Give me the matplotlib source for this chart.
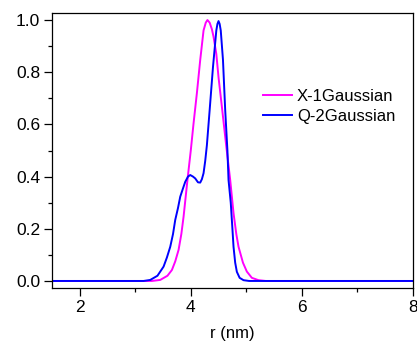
import matplotlib
matplotlib.use("Agg")
import matplotlib.pyplot as plt
from matplotlib.ticker import MultipleLocator, FormatStrFormatter

plt.rcParams['font.family'] = ['Liberation Sans', 'DejaVu Sans']

# Radius distributions (r in nm, normalised intensity)
r_x1 = [1.5, 3.30, 3.45, 3.58, 3.66, 3.72, 3.78, 3.83, 3.87, 3.94, 4.00, 4.05,
        4.11, 4.17, 4.23, 4.27, 4.30, 4.34, 4.38, 4.41, 4.46, 4.50, 4.56, 4.64,
        4.71, 4.77, 4.82, 4.86, 4.94, 5.01, 5.10, 5.22, 5.35, 8.0]
y_x1 = [0.0, 0.0, 0.004, 0.02, 0.042, 0.075, 0.119, 0.18, 0.246, 0.387, 0.50, 0.604,
        0.72, 0.847, 0.96, 0.99, 1.0, 0.99, 0.965, 0.936, 0.87, 0.78, 0.668, 0.515,
        0.387, 0.26, 0.18, 0.131, 0.07, 0.036, 0.012, 0.003, 0.0, 0.0]

r_q2 = [1.5, 3.15, 3.27, 3.40, 3.51, 3.57, 3.63, 3.68, 3.72, 3.77, 3.81, 3.86,
        3.90, 3.95, 3.99, 4.04, 4.08, 4.13, 4.17, 4.20, 4.23, 4.26, 4.29, 4.34,
        4.40, 4.46, 4.48, 4.50, 4.52, 4.54, 4.58, 4.62, 4.66, 4.68, 4.72, 4.75,
        4.77, 4.80, 4.83, 4.88, 4.95, 5.05, 8.0]
y_q2 = [0.0, 0.0, 0.004, 0.02, 0.055, 0.09, 0.131, 0.18, 0.234, 0.28, 0.323, 0.355,
        0.38, 0.400, 0.406, 0.400, 0.393, 0.378, 0.377, 0.39, 0.413, 0.46, 0.52, 0.655,
        0.82, 0.96, 0.985, 0.996, 0.985, 0.96, 0.847, 0.655, 0.50, 0.387, 0.30, 0.20,
        0.131, 0.07, 0.035, 0.012, 0.003, 0.0, 0.0]

labels = ["X-1Gaussian", "Q-2Gaussian"]

fig = plt.figure(figsize=(4.17, 3.41), dpi=100)
ax = fig.add_axes([0.1247, 0.1554, 0.8653, 0.8065])

ax.plot(r_x1, y_x1, color="#FF00FF", lw=1.4, label=labels[0])
ax.plot(r_q2, y_q2, color="#0000FF", lw=1.4, label=labels[1])

ax.set_xlim(1.5, 8.0)
ax.set_ylim(-0.027, 1.027)
ax.xaxis.set_major_locator(MultipleLocator(2))
ax.xaxis.set_minor_locator(MultipleLocator(1))
ax.yaxis.set_major_locator(MultipleLocator(0.2))
ax.yaxis.set_minor_locator(MultipleLocator(0.1))
ax.yaxis.set_major_formatter(FormatStrFormatter('%.1f'))

ax.tick_params(which='major', direction='out', length=5.5, width=0.9,
               labelsize=12.5, pad=3)
ax.tick_params(which='minor', direction='out', length=3, width=0.9)
ax.tick_params(top=False, right=False, which='both')
for s in ax.spines.values():
    s.set_linewidth(0.9)

ax.set_xlabel("r (nm)", fontsize=12, labelpad=8)

ax.legend(loc='upper left', bbox_to_anchor=(0.5845, 0.724), frameon=False,
          fontsize=12, handlelength=1.75, handletextpad=0.3, labelspacing=0.3,
          borderpad=0, borderaxespad=0)

fig.savefig("out.png", dpi=100)
